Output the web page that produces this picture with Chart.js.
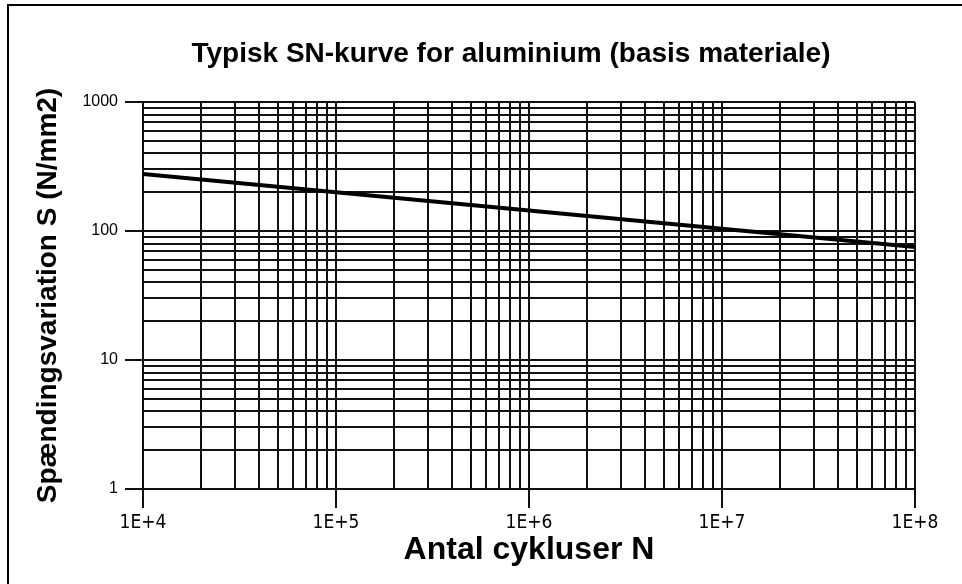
<!DOCTYPE html>
<html>
<head>
<meta charset="utf-8">
<script src="https://cdn.jsdelivr.net/npm/chart.js@4.4.0/dist/chart.umd.min.js"></script>
<style>
  html, body { margin: 0; padding: 0; background: #fff; }
</style>
</head>
<body>
<canvas id="snChart" width="962" height="584"></canvas>
<script>
// data (log-log SN curve)
const cycles = [1e4, 1e5, 1e6, 1e7, 1e8]
const stress = [277, 200, 144, 104, 75]

// gridlines: every 1..9 within each decade
const xDecades = [1e4, 1e5, 1e6, 1e7]
const yDecades = [1, 10, 100]
const multipliers = [1, 2, 3, 4, 5, 6, 7, 8, 9]
const xMax = 1e8
const yMax = 1000

const chartTitle = 'Typisk SN-kurve for aluminium (basis materiale)'
const xTitle = 'Antal cykluser N'
const yTitle = 'Spændingsvariation S (N/mm2)'

const xTickValues = xDecades.flatMap(d => multipliers.map(m => d * m)).concat([xMax])
const yTickValues = yDecades.flatMap(d => multipliers.map(m => d * m)).concat([yMax])

const isDecade = v => Math.abs(Math.log10(v) - Math.round(Math.log10(v))) < 1e-9
const gridColor = '#111'

const frameAndTitle = {
    id: 'frameAndTitle',
    afterDraw(chart) {
        const ctx = chart.ctx
        ctx.save()
        ctx.strokeStyle = '#000'
        ctx.lineWidth = 2
        ctx.beginPath()
        ctx.moveTo(8, chart.height)
        ctx.lineTo(8, 5)
        ctx.lineTo(chart.width, 5)
        ctx.stroke()
        ctx.fillStyle = '#000'
        ctx.font = 'bold 28px "Liberation Sans", Arial, sans-serif'
        ctx.textAlign = 'center'
        ctx.textBaseline = 'alphabetic'
        ctx.fillText(chartTitle, 511, 62)
        ctx.restore()
    }
}

const chrt = document.getElementById('snChart').getContext('2d')
const chartConfig = {
    type: 'line',
    data: {
        datasets: [{
            data: cycles.map((n, i) => ({ x: n, y: stress[i] })),
            borderColor: '#000',
            borderWidth: 4,
            pointRadius: 0,
            fill: false,
            tension: 0
        }]
    },
    options: {
        responsive: false,
        animation: false,
        devicePixelRatio: 1,
        layout: { padding: { left: 0, right: 47, top: 102, bottom: 0 } },
        plugins: {
            legend: { display: false },
            tooltip: { enabled: false },
            title: { display: false }
        },
        scales: {
            x: {
                type: 'logarithmic',
                min: 1e4,
                max: xMax,
                afterBuildTicks: (scale) => {
                    scale.ticks = xTickValues.map(v => ({ value: v, major: isDecade(v) }))
                },
                afterFit: (scale) => { scale.height = 95 },
                border: { display: true, color: gridColor, width: 2 },
                grid: {
                    color: gridColor,
                    lineWidth: 2,
                    drawTicks: true,
                    tickLength: 19,
                    tickWidth: 2,
                    tickColor: (c) => (c.tick && isDecade(c.tick.value)) ? gridColor : 'rgba(0,0,0,0)'
                },
                ticks: {
                    autoSkip: false,
                    maxRotation: 0,
                    padding: 4,
                    color: '#000',
                    font: { family: '"Liberation Sans Narrow", "DejaVu Sans Condensed", sans-serif', size: 19 },
                    callback: (value) => isDecade(value) ? '1E+' + Math.round(Math.log10(value)) : ''
                },
                title: {
                    display: true,
                    text: xTitle,
                    color: '#000',
                    font: { family: '"Liberation Sans", Arial, sans-serif', size: 32, weight: 'bold' },
                    padding: { top: 0, bottom: 15 }
                }
            },
            y: {
                type: 'logarithmic',
                min: 1,
                max: yMax,
                afterBuildTicks: (scale) => {
                    scale.ticks = yTickValues.map(v => ({ value: v, major: isDecade(v) }))
                },
                afterFit: (scale) => { scale.width = 143 },
                border: { display: true, color: gridColor, width: 2 },
                grid: {
                    color: gridColor,
                    lineWidth: 2,
                    drawTicks: true,
                    tickLength: 18,
                    tickWidth: 2,
                    tickColor: (c) => (c.tick && isDecade(c.tick.value)) ? gridColor : 'rgba(0,0,0,0)'
                },
                ticks: {
                    autoSkip: false,
                    padding: 7,
                    color: '#000',
                    font: { family: '"Liberation Sans", Arial, sans-serif', size: 16 },
                    callback: (value) => isDecade(value) ? String(value) : ''
                },
                title: {
                    display: true,
                    text: yTitle,
                    color: '#000',
                    font: { family: '"Liberation Sans", Arial, sans-serif', size: 28, weight: 'bold' },
                    padding: { top: 31, bottom: 0 }
                }
            }
        }
    },
    plugins: [frameAndTitle]
}
var snChart = new Chart(chrt, chartConfig)
</script>
</body>
</html>
